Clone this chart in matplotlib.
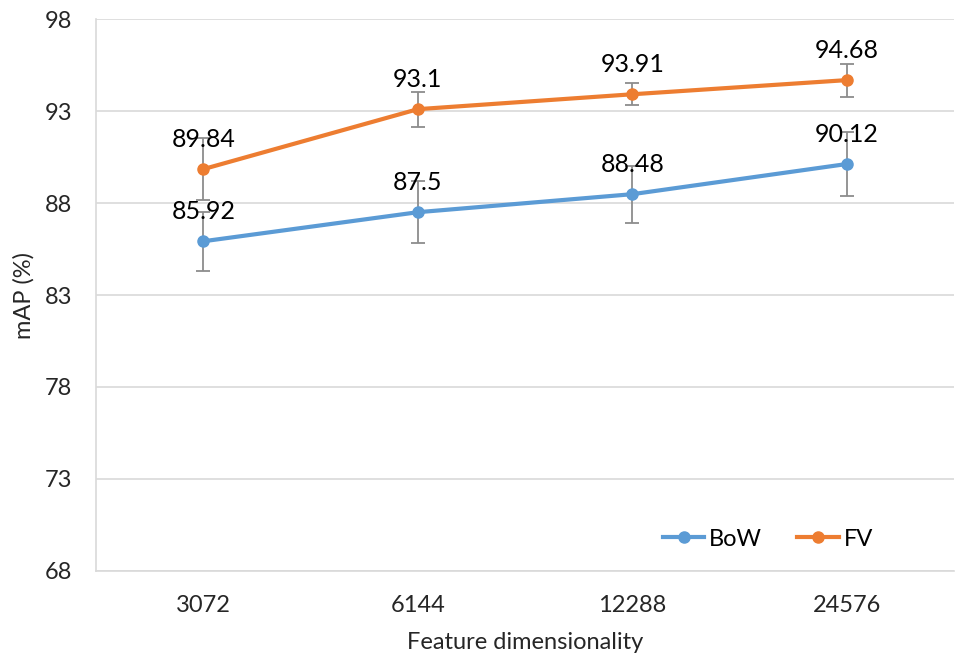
import matplotlib
matplotlib.use("Agg")
import matplotlib.pyplot as plt

plt.rcParams['font.family'] = ['Lato', 'DejaVu Sans']

# values
dims = ["3072", "6144", "12288", "24576"]
bow = [85.92, 87.5, 88.48, 90.12]
bow_err = [1.6, 1.67, 1.55, 1.75]
fv = [89.84, 93.1, 93.91, 94.68]
fv_err = [1.7, 0.95, 0.6, 0.9]

blue = "#5B9BD5"
orange = "#ED7D31"

fig = plt.figure(figsize=(9.57, 6.56), dpi=100)
ax = fig.add_axes([0.1003, 0.1296, 0.8967, 0.8414])
x = range(len(dims))

for vals, err, col, name in [(bow, bow_err, blue, "BoW"), (fv, fv_err, orange, "FV")]:
    ax.errorbar(x, vals, yerr=err, color=col, lw=3, marker="o", ms=8,
                ecolor="#8c8c8c", elinewidth=1.3, capsize=5, capthick=1.3,
                label=name, zorder=3)
    for xi, v in zip(x, vals):
        ax.text(xi, v + 1.0, f"{v:g}", ha="center", va="bottom",
                fontsize=18, color="black", zorder=4)

ax.set_xlim(-0.5, 3.5)
ax.set_ylim(68, 98)
ax.set_yticks([68, 73, 78, 83, 88, 93, 98])
ax.set_xticks(list(x))
ax.set_xticklabels(dims)
ax.tick_params(length=0, labelsize=17, colors="#262626")
ax.tick_params(axis="x", pad=17)
ax.tick_params(axis="y", pad=17)
ax.grid(axis="y", color="#d9d9d9", lw=1.2)
ax.set_axisbelow(True)
for s in ["top", "right"]:
    ax.spines[s].set_visible(False)
for s in ["bottom", "left"]:
    ax.spines[s].set_color("#d9d9d9")
    ax.spines[s].set_linewidth(1.2)

ax.set_xlabel("Feature dimensionality", fontsize=17, color="#262626", labelpad=12)
ax.set_ylabel("mAP (%)", fontsize=17, color="#262626", labelpad=7)

h, l = ax.get_legend_handles_labels()
h = [hh[0] for hh in h]
ax.legend(h, l, loc="lower right", bbox_to_anchor=(0.93, 0.0), ncol=2,
          frameon=False, fontsize=17, handlelength=1.75, columnspacing=1.5,
          handletextpad=0.2)

fig.savefig("out.png", dpi=100)
